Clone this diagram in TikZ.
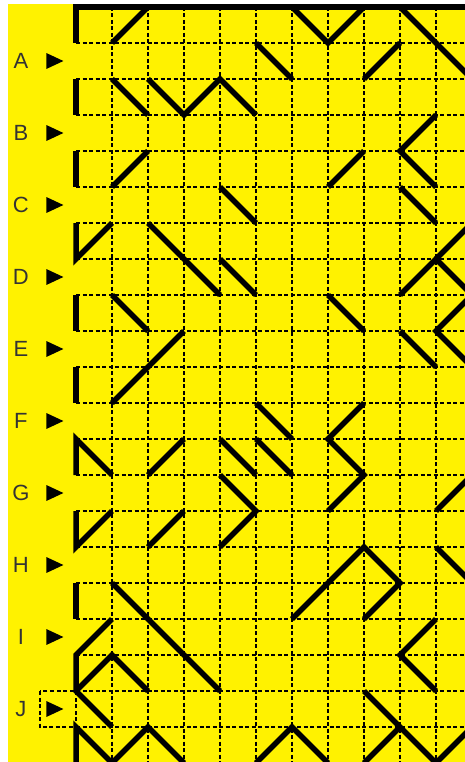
\documentclass[tikz,border=0pt]{standalone}
\usepackage{fontspec}
\setmainfont{Liberation Sans}
\begin{document}
\begin{tikzpicture}[x=36pt,y=-36pt,
    thread/.style={line width=5.5pt},
    gridline/.style={line width=1.6pt, dash pattern=on 4pt off 2.5pt},
    lbl/.style={font=\fontsize{22}{26}\selectfont, text=black!80, inner sep=0pt}]
 % Page and background
 \useasboundingbox (-2.1111,-0.1944) rectangle (10.8056,20.9722);
 \clip (-2.1111,-0.1944) rectangle (10.8056,20.9722);
 \fill[white] (-2.1111,-0.1944) rectangle (10.8056,20.9722);
 \fill[yellow] (-1.8889,-0.0833) rectangle (10.8056,20.9722);

 % Dashed grid
 \foreach \i in {1,...,11} \draw[gridline] (\i,0) -- (\i,21);
 \foreach \j in {0,...,21} \draw[gridline] (0,\j) -- (11,\j);
 \draw[gridline] (-1,19) rectangle (0,20);

 % Row labels with pointers
 \foreach \lt [count=\r] in {A,B,C,D,E,F,G,H,I,J} {
   \node[lbl] (\lt) at (-1.53,2*\r-0.5) {\lt};
   \fill (-0.82,2*\r-0.72) -- (-0.35,2*\r-0.5) -- (-0.82,2*\r-0.28) -- cycle;
 }

 % Border
 \draw[thread] (0,1) -- (0,0) -- (11,0);

 % Threads, top to bottom
 \draw[thread] (1,1) -- (2,0);
 \draw[thread] (6,0) -- (7,1) -- (8,0);
 \draw[thread] (9,0) -- (11,2);
 \draw[thread] (5,1) -- (6,2);
 \draw[thread] (8,2) -- (9,1);
 \draw[thread] (0,2) -- (0,3);
 \draw[thread] (1,2) -- (2,3);
 \draw[thread] (2,2) -- (3,3) -- (4,2) -- (5,3);
 \draw[thread] (10,3) -- (9,4) -- (10,5);
 \draw[thread] (0,4) -- (0,5);
 \draw[thread] (1,5) -- (2,4);
 \draw[thread] (7,5) -- (8,4);
 \draw[thread] (4,5) -- (5,6);
 \draw[thread] (9,5) -- (10,6);
 \draw[thread] (0,6) -- (0,7) -- (1,6);
 \draw[thread] (2,6) -- (4,8);
 \draw[thread] (4,7) -- (5,8);
 \draw[thread] (9,8) -- (10,7) -- (11,8);
 \draw[thread] (10,7) -- (11,6);
 \draw[thread] (0,8) -- (0,9);
 \draw[thread] (1,8) -- (2,9);
 \draw[thread] (7,8) -- (8,9);
 \draw[thread] (11,8) -- (10,9) -- (11,10);
 \draw[thread] (1,11) -- (3,9);
 \draw[thread] (9,9) -- (10,10);
 \draw[thread] (0,10) -- (0,11);
 \draw[thread] (5,11) -- (6,12);
 \draw[thread] (8,11) -- (7,12) -- (8,13) -- (7,14);
 \draw[thread] (0,13) -- (0,12) -- (1,13);
 \draw[thread] (2,13) -- (3,12);
 \draw[thread] (4,12) -- (5,13);
 \draw[thread] (5,12) -- (6,13);
 \draw[thread] (4,13) -- (5,14) -- (4,15);
 \draw[thread] (10,14) -- (11,13);
 \draw[thread] (0,14) -- (0,15) -- (1,14);
 \draw[thread] (2,15) -- (3,14);
 \draw[thread] (6,17) -- (8,15) -- (9,16) -- (8,17);
 \draw[thread] (10,15) -- (11,16);
 \draw[thread] (0,16) -- (0,17);
 \draw[thread] (1,16) -- (4,19);
 \draw[thread] (1,17) -- (0,18) -- (0,19) -- (1,20);
 \draw[thread] (0,19) -- (1,18) -- (2,19);
 \draw[thread] (10,17) -- (9,18) -- (10,19);
 \draw[thread] (8,19) -- (10,21);
 \draw[thread] (0,21) -- (0,20) -- (1,21) -- (2,20) -- (3,21);
 \draw[thread] (5,21) -- (6,20) -- (7,21);
 \draw[thread] (8,21) -- (9,20);
 \draw[thread] (10,21) -- (11,20);
\end{tikzpicture}
\end{document}
